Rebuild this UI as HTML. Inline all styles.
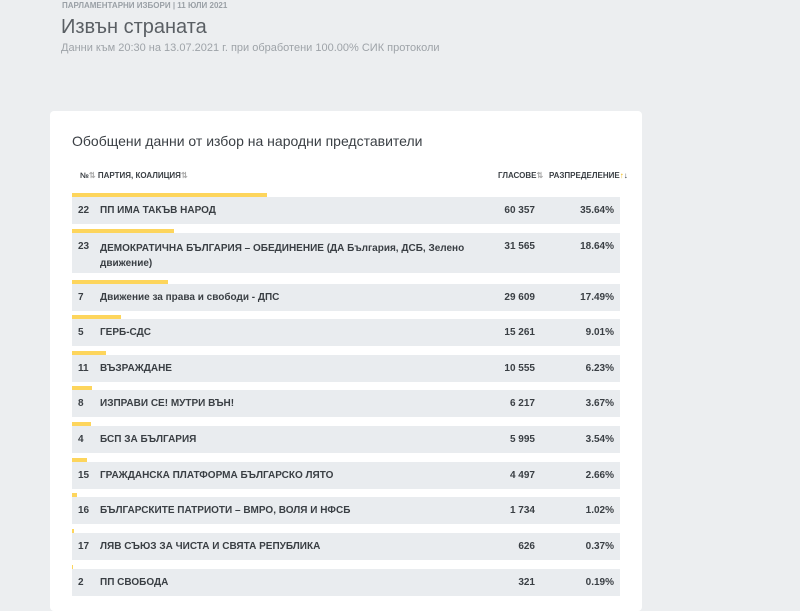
<!DOCTYPE html>
<html><head><meta charset="utf-8"><style>
*{margin:0;padding:0;box-sizing:border-box}
body{width:800px;height:600px;background:#eceef0;font-family:"Liberation Sans",sans-serif;position:relative;overflow:hidden;color:#3a3f44}
.a{position:absolute;white-space:nowrap}
.card{position:absolute;left:50px;top:111px;width:592px;height:500px;background:#fff;border-radius:4px}
.bar{position:absolute;left:72px;height:4px;background:#fdd55c}
.row{position:absolute;left:72px;width:548px;background:#e9ecef;font-size:10px;font-weight:bold;color:#3a3f44}
.row span{position:absolute}
.n{left:6px}.p{left:28px}.v{right:85px}.d{right:6px}
.h{font-size:8px;font-weight:bold;color:#3a3f44}
.s{color:#aaa;font-size:8px}
</style></head><body>
<div class="a" style="left:62px;top:1px;font-size:8px;font-weight:bold;color:#9aa0a6">ПАРЛАМЕНТАРНИ ИЗБОРИ | 11 ЮЛИ 2021</div>
<div class="a" style="left:61px;top:16px;font-size:20px;color:#5a5f64">Извън страната</div>
<div class="a" style="left:61px;top:42px;font-size:11px;color:#9ea3a8">Данни към 20:30 на 13.07.2021 г. при обработени 100.00% СИК протоколи</div>
<div class="card"></div>
<div class="a" style="left:72px;top:133px;font-size:14px;color:#3a3f44">Обобщени данни от избор на народни представители</div>
<div class="a h" style="left:80px;top:171px">№<span class="s">⇅</span> ПАРТИЯ, КОАЛИЦИЯ<span class="s">⇅</span></div>
<div class="a h" style="left:498px;top:171px">ГЛАСОВЕ<span class="s">⇅</span></div>
<div class="a h" style="left:549px;top:171px">РАЗПРЕДЕЛЕНИЕ<span style="color:#f0b400">↑</span>↓</div>

<div class="bar" style="top:193px;width:195px"></div>
<div class="row" style="top:197px;height:27px"><span class="n" style="top:8px">22</span><span class="p" style="top:8px">ПП ИМА ТАКЪВ НАРОД</span><span class="v" style="top:8px">60 357</span><span class="d" style="top:8px">35.64%</span></div>

<div class="bar" style="top:229px;width:102px"></div>
<div class="row" style="top:233px;height:40px"><span class="n" style="top:8px">23</span><span class="p" style="top:8px;line-height:15px">ДЕМОКРАТИЧНА БЪЛГАРИЯ – ОБЕДИНЕНИЕ (ДА България, ДСБ, Зелено<br>движение)</span><span class="v" style="top:8px">31 565</span><span class="d" style="top:8px">18.64%</span></div>

<div class="bar" style="top:280px;width:96px"></div>
<div class="row" style="top:284px;height:27px"><span class="n" style="top:8px">7</span><span class="p" style="top:8px">Движение за права и свободи - ДПС</span><span class="v" style="top:8px">29 609</span><span class="d" style="top:8px">17.49%</span></div>

<div class="bar" style="top:315px;width:49px"></div>
<div class="row" style="top:319px;height:27px"><span class="n" style="top:8px">5</span><span class="p" style="top:8px">ГЕРБ-СДС</span><span class="v" style="top:8px">15 261</span><span class="d" style="top:8px">9.01%</span></div>

<div class="bar" style="top:351px;width:34px"></div>
<div class="row" style="top:355px;height:27px"><span class="n" style="top:8px">11</span><span class="p" style="top:8px">ВЪЗРАЖДАНЕ</span><span class="v" style="top:8px">10 555</span><span class="d" style="top:8px">6.23%</span></div>

<div class="bar" style="top:386px;width:20px"></div>
<div class="row" style="top:390px;height:27px"><span class="n" style="top:8px">8</span><span class="p" style="top:8px">ИЗПРАВИ СЕ! МУТРИ ВЪН!</span><span class="v" style="top:8px">6 217</span><span class="d" style="top:8px">3.67%</span></div>

<div class="bar" style="top:422px;width:19px"></div>
<div class="row" style="top:426px;height:27px"><span class="n" style="top:8px">4</span><span class="p" style="top:8px">БСП ЗА БЪЛГАРИЯ</span><span class="v" style="top:8px">5 995</span><span class="d" style="top:8px">3.54%</span></div>

<div class="bar" style="top:458px;width:15px"></div>
<div class="row" style="top:462px;height:27px"><span class="n" style="top:8px">15</span><span class="p" style="top:8px">ГРАЖДАНСКА ПЛАТФОРМА БЪЛГАРСКО ЛЯТО</span><span class="v" style="top:8px">4 497</span><span class="d" style="top:8px">2.66%</span></div>

<div class="bar" style="top:493px;width:5px"></div>
<div class="row" style="top:497px;height:27px"><span class="n" style="top:8px">16</span><span class="p" style="top:8px">БЪЛГАРСКИТЕ ПАТРИОТИ – ВМРО, ВОЛЯ И НФСБ</span><span class="v" style="top:8px">1 734</span><span class="d" style="top:8px">1.02%</span></div>

<div class="bar" style="top:529px;width:2px"></div>
<div class="row" style="top:533px;height:27px"><span class="n" style="top:8px">17</span><span class="p" style="top:8px">ЛЯВ СЪЮЗ ЗА ЧИСТА И СВЯТА РЕПУБЛИКА</span><span class="v" style="top:8px">626</span><span class="d" style="top:8px">0.37%</span></div>

<div class="bar" style="top:565px;width:1px"></div>
<div class="row" style="top:569px;height:27px"><span class="n" style="top:8px">2</span><span class="p" style="top:8px">ПП СВОБОДА</span><span class="v" style="top:8px">321</span><span class="d" style="top:8px">0.19%</span></div>
</body></html>
